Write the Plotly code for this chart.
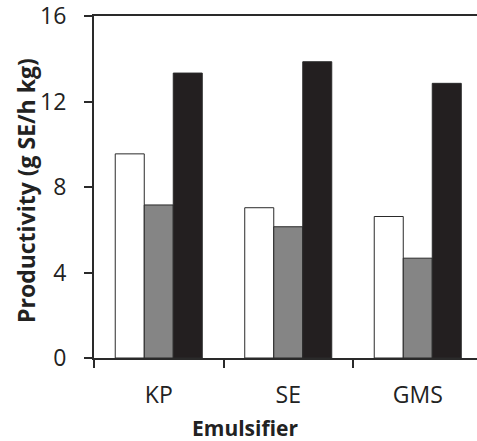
import plotly.graph_objects as go

emulsifiers = ["KP", "SE", "GMS"]
series_white = [9.55, 7.03, 6.62]
series_gray = [7.16, 6.14, 4.67]
series_black = [13.33, 13.86, 12.85]

y_ticks = [0, 4, 8, 12, 16]

edge = "#2a2a2a"
font = "Open Sans"

fig = go.Figure()
for vals, color in [(series_white, "#ffffff"), (series_gray, "#858585"), (series_black, "#231f20")]:
    fig.add_trace(go.Bar(
        x=emulsifiers, y=vals,
        marker=dict(color=color, line=dict(color=edge, width=1)),
        showlegend=False,
    ))

fig.update_layout(
    width=477, height=441,
    margin=dict(l=94, r=0, t=16, b=83),
    paper_bgcolor="white", plot_bgcolor="white",
    barmode="group", bargap=0.328, bargroupgap=0,
    font=dict(family=font, size=23, color="#222222"),
    xaxis=dict(
        type="category", range=[-0.5, 2.4575],
        showline=True, linecolor=edge, linewidth=2, mirror=True,
        ticks="outside", tickson="boundaries", ticklen=8, tickwidth=2, tickcolor=edge,
        ticklabelstandoff=15, showgrid=False,
    ),
    yaxis=dict(
        range=[0, 16], tickvals=y_ticks,
        showline=True, linecolor=edge, linewidth=2,
        ticks="outside", ticklen=8, tickwidth=2, tickcolor=edge,
        ticklabelstandoff=13, ticklabeloverflow="allow",
        showgrid=False, zeroline=False,
    ),
    annotations=[
        dict(text="<b>Emulsifier</b>", xref="paper", yref="paper",
             x=(245 - 94) / 383, y=-(428 - 358) / 342,
             xanchor="center", yanchor="middle", showarrow=False,
             font=dict(family=font, size=21, color="#222222")),
        dict(text="<b>Productivity (g SE/h kg)</b>", xref="paper", yref="paper",
             x=(26 - 94) / 383, y=(358 - 191) / 342, textangle=-90,
             xanchor="center", yanchor="middle", showarrow=False,
             font=dict(family=font, size=23, color="#222222")),
    ],
)

fig.write_html("out.html")
